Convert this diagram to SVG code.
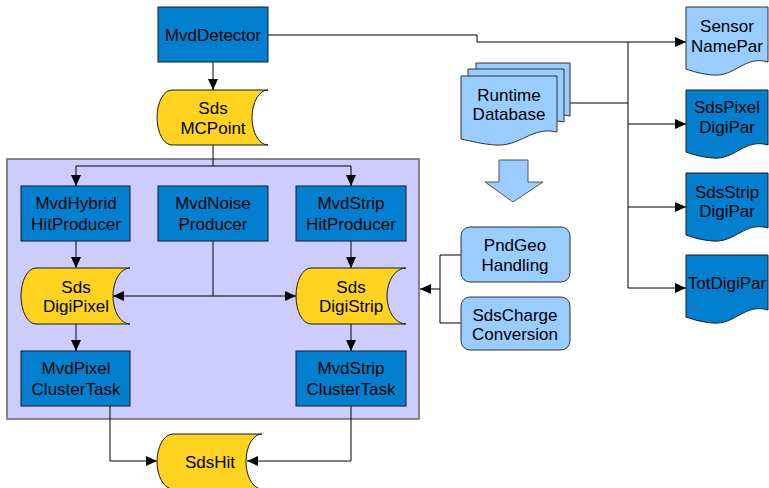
<svg xmlns="http://www.w3.org/2000/svg" width="769" height="488" viewBox="0 0 769 488">
<defs>
<marker id="ah" markerUnits="userSpaceOnUse" markerWidth="12" markerHeight="10" refX="11" refY="5" orient="auto"><path d="M0,0 L11,5 L0,10 Z" fill="#000"/></marker>
<style>
.box{fill:#0280cf;stroke:#1a1a1a;stroke-width:1}
.store{fill:#ffd320;stroke:#1a1a1a;stroke-width:1}
.lb{fill:#99ccff;stroke:#333;stroke-width:1}
.t{font-family:"Liberation Sans",Arial,sans-serif;font-size:17px;fill:#000;text-anchor:middle}
.c{fill:none;stroke:#000;stroke-width:1}
.ca{fill:none;stroke:#000;stroke-width:1;marker-end:url(#ah)}
</style>
</defs>
<rect x="0" y="0" width="769" height="488" fill="#fff"/>
<rect id="group" x="7" y="159" width="412" height="260" fill="#ccccff" stroke="#666" stroke-width="1.5"/>

<g id="connectors">
<path class="ca" d="M213,62 V90"/>
<path class="c" d="M213,145 V166"/>
<path class="ca" d="M213,166 H76 V186"/>
<path class="ca" d="M213,166 H351 V186"/>
<path class="ca" d="M76,241 V268"/>
<path class="ca" d="M351,241 V268"/>
<path class="c" d="M213,241 V296"/>
<path class="ca" d="M213,296 H113"/>
<path class="ca" d="M213,296 H296"/>
<path class="ca" d="M76,324 V351"/>
<path class="ca" d="M351,324 V351"/>
<path class="ca" d="M110,406 V461 H157"/>
<path class="ca" d="M351,406 V461 H247"/>
<path class="ca" d="M268,35 H477 V42 H686"/>
<path class="c" d="M628,42 V288"/>
<path class="c" d="M570,103 H628" stroke-width="1.5"/>
<path class="ca" d="M628,124 H686"/>
<path class="ca" d="M628,207 H686"/>
<path class="ca" d="M628,288 H686"/>
<path class="c" d="M461,255 H440 V323 H461"/>
<path class="ca" d="M440,289 H420"/>
</g>

<g id="MvdDetector"><rect class="box" x="158" y="7" width="110" height="55"/><text class="t" x="213" y="41">MvdDetector</text></g>

<g id="SdsMCPoint"><path class="store" d="M172,90 H268 A16 27.5 0 0 0 268,145 H172 A15 27.5 0 0 1 172,90 Z"/><text class="t" x="213" y="114">Sds</text><text class="t" x="213" y="134">MCPoint</text></g>

<g id="MvdHybridHitProducer"><rect class="box" x="21" y="186" width="109" height="55"/><text class="t" x="76" y="209">MvdHybrid</text><text class="t" x="76" y="230">HitProducer</text></g>
<g id="MvdNoiseProducer"><rect class="box" x="158" y="186" width="110" height="55"/><text class="t" x="213" y="209">MvdNoise</text><text class="t" x="213" y="230">Producer</text></g>
<g id="MvdStripHitProducer"><rect class="box" x="296" y="186" width="110" height="55"/><text class="t" x="351" y="209">MvdStrip</text><text class="t" x="351" y="230">HitProducer</text></g>

<g id="SdsDigiPixel"><path class="store" d="M36,268 H130 A17 28 0 0 0 130,324 H36 A15 28 0 0 1 36,268 Z"/><text class="t" x="76" y="293">Sds</text><text class="t" x="76" y="312">DigiPixel</text></g>
<g id="SdsDigiStrip"><path class="store" d="M311,268 H406 A19 28 0 0 0 406,324 H311 A15 28 0 0 1 311,268 Z"/><text class="t" x="351" y="293">Sds</text><text class="t" x="351" y="312">DigiStrip</text></g>

<g id="MvdPixelClusterTask"><rect class="box" x="21" y="351" width="109" height="55"/><text class="t" x="76" y="374">MvdPixel</text><text class="t" x="76" y="395">ClusterTask</text></g>
<g id="MvdStripClusterTask"><rect class="box" x="296" y="351" width="110" height="55"/><text class="t" x="351" y="374">MvdStrip</text><text class="t" x="351" y="395">ClusterTask</text></g>

<g id="SdsHit"><path class="store" d="M173,434 H262 A16 27.5 0 0 0 262,489 H173 A16 27.5 0 0 1 173,434 Z"/><text class="t" x="210" y="468">SdsHit</text></g>

<g id="RuntimeDatabase">
<path class="lb" d="M476,63 H570 V116 C548,111 538,130 516,127 C503,126 490,122 476,121 Z"/>
<path class="lb" d="M468,69 H564 V122 C542,117 532,136 510,134 C497,133 483,129 468,127 Z"/>
<path class="lb" d="M461,76 H557 V132 C532,126 520,147 495,145 C482,144 470,141 461,139 Z"/>
<text class="t" x="509" y="101">Runtime</text><text class="t" x="509" y="120">Database</text>
</g>

<g id="BlockArrow"><polygon points="499,160 528,160 528,182 543,182 513,202 485,182 499,182" fill="#99ccff" stroke="#555" stroke-width="1"/></g>

<g id="PndGeoHandling"><rect class="lb" x="461" y="227" width="109" height="55" rx="9"/><text class="t" x="515" y="251">PndGeo</text><text class="t" x="515" y="271">Handling</text></g>
<g id="SdsChargeConversion"><rect class="lb" x="461" y="297" width="109" height="53" rx="9"/><text class="t" x="515" y="321">SdsCharge</text><text class="t" x="515" y="340">Conversion</text></g>

<g id="SensorNamePar"><path class="lb" d="M686,7 H768 V62 C745,55 735,77 713,75 C700,74 692,71 686,69 Z"/><text class="t" x="727" y="32">Sensor</text><text class="t" x="727" y="52">NamePar</text></g>
<g id="SdsPixelDigiPar"><path class="box" d="M686,90 H768 V145 C745,138 735,160 713,158 C700,157 692,154 686,152 Z"/><text class="t" x="727" y="113">SdsPixel</text><text class="t" x="727" y="133">DigiPar</text></g>
<g id="SdsStripDigiPar"><path class="box" d="M686,173 H768 V228 C745,221 735,243 713,241 C700,240 692,237 686,235 Z"/><text class="t" x="727" y="198">SdsStrip</text><text class="t" x="727" y="217">DigiPar</text></g>
<g id="TotDigiPar"><path class="box" d="M686,255 H768 V310 C745,303 735,325 713,323 C700,322 692,319 686,317 Z"/><text class="t" x="727" y="289">TotDigiPar</text></g>
</svg>
